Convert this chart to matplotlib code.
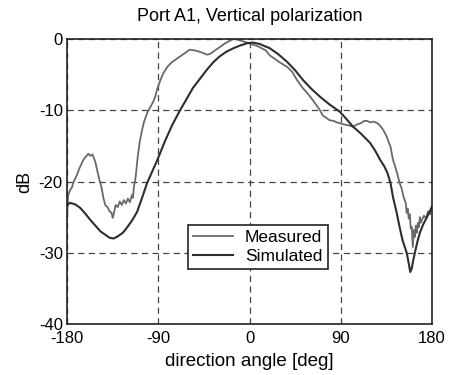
import numpy as np
import matplotlib.pyplot as plt

plt.rcParams['font.family'] = ['Liberation Sans', 'DejaVu Sans']
plt.rcParams['axes.unicode_minus'] = False

# measured pattern
meas_deg = [-180, -179.5, -179, -178, -177, -175, -174, -172, -170, -168, -166, -164, -162, -160,
            -159, -157, -155, -154, -152, -150, -148, -146, -144, -142, -140, -138, -136, -135,
            -134, -133, -132, -130, -128, -126, -124, -122, -120, -118, -116, -115, -114, -113,
            -112, -111, -110, -108, -106, -104, -101, -98, -95, -93, -91, -88, -85, -81, -77,
            -71, -65, -59, -54, -49, -45, -42, -39, -36, -32, -29, -24, -20, -16, -12, -7, -2.5,
            3.5, 8, 12, 16, 20, 25, 30, 37, 42, 47, 52, 57, 62, 66, 69.5, 72, 75, 79, 83, 86, 89,
            93, 97, 102, 106, 110, 113, 116, 119, 122, 126, 129, 132, 135, 137, 139, 141.5, 143,
            145.5, 148, 150, 152, 154, 155, 156, 157, 158, 159, 160, 161, 162, 163, 164, 165,
            166, 167, 168, 169, 170, 172, 174, 176, 178, 180]
meas_db = [-25.4, -23.5, -22.0, -21.6, -21.2, -20.8, -20.2, -19.6, -19.0, -18.2, -17.6, -17.0,
           -16.6, -16.3, -16.1, -16.4, -16.2, -16.5, -17.3, -18.6, -19.8, -20.8, -22.4, -23.4,
           -23.6, -24.2, -24.4, -25.1, -24.6, -23.9, -23.3, -23.6, -22.8, -23.3, -22.6, -23.1,
           -22.4, -22.9, -21.9, -22.3, -20.7, -20.0, -19.0, -17.5, -16.2, -14.2, -12.8, -11.6,
           -10.4, -9.6, -8.8, -8.1, -7.0, -5.8, -4.8, -3.9, -3.3, -2.7, -2.1, -1.5, -1.6, -1.8,
           -2.0, -2.2, -2.1, -1.8, -1.4, -1.1, -0.6, -0.3, 0.0, -0.1, -0.3, -0.5, -0.8, -1.0,
           -1.3, -1.6, -2.3, -2.8, -3.3, -3.9, -4.6, -5.8, -6.8, -7.6, -8.5, -9.3, -10.0, -10.7,
           -11.0, -11.4, -11.5, -11.7, -11.8, -12.0, -12.1, -12.3, -12.0, -11.8, -11.5, -11.5,
           -11.7, -11.6, -11.8, -12.2, -12.8, -13.6, -14.4, -15.1, -17.0, -17.6, -18.8, -20.2,
           -21.0, -22.2, -23.0, -24.4, -23.8, -25.2, -24.6, -26.6, -26.4, -29.2, -26.8, -27.8,
           -26.2, -27.2, -25.8, -26.4, -25.0, -25.8, -25.4, -24.8, -25.2, -24.2, -24.6, -23.5]

# simulated pattern
sim_deg = [-180, -177, -172, -167, -162, -157, -152, -147, -142, -138, -134, -130, -125, -121,
           -116, -111, -106, -101, -96, -91, -87, -83, -76, -68.5, -62, -56, -49, -42, -36, -30,
           -23, -16, -9, -2.5, 3.5, 10, 20, 28, 37, 45, 53, 61, 69.5, 79, 89, 96, 102, 110, 119,
           124, 129, 133, 136, 139, 141.5, 145, 148, 151, 155, 157, 158.5, 160, 161.5, 164,
           166, 168, 171, 175, 180]
sim_db = [-23.3, -23.0, -23.2, -23.7, -24.5, -25.4, -26.2, -27.0, -27.5, -27.9, -28.0, -27.7,
          -27.2, -26.5, -25.5, -24.3, -22.3, -20.2, -18.6, -17.0, -15.6, -14.2, -12.0, -10.0,
          -8.4, -6.9, -5.6, -4.3, -3.3, -2.5, -1.8, -1.3, -0.9, -0.6, -0.5, -0.7, -1.3, -2.1,
          -3.2, -4.4, -5.8, -7.0, -8.1, -9.2, -10.2, -11.3, -12.3, -13.3, -14.6, -15.7, -17.0,
          -17.9, -18.8, -20.2, -22.2, -24.3, -26.4, -28.3, -30.0, -31.5, -32.7, -32.2, -31.0,
          -29.4, -28.2, -27.2, -26.1, -25.0, -23.5]

fig = plt.figure(figsize=(4.51, 3.75), dpi=100)
ax = fig.add_axes([0.1486, 0.136, 0.8094, 0.76])

ax.plot(meas_deg, meas_db, color='#6a6a6a', lw=1.3, label='Measured')
ax.plot(sim_deg, sim_db, color='#2e2e2e', lw=1.5, label='Simulated')

ax.set_xlim(-180, 180)
ax.set_ylim(-40, 0)
ax.set_xticks([-180, -90, 0, 90, 180])
ax.set_yticks([-40, -30, -20, -10, 0])
ax.grid(True, color='#444444', linestyle=(0, (5, 3.5)), linewidth=0.9)
ax.tick_params(direction='in', length=0, labelsize=12)
ax.tick_params(axis='x', pad=5)
ax.tick_params(axis='y', pad=3)
for s in ax.spines.values():
    s.set_linewidth(1.2)
    s.set_color('#222222')

ax.set_title('Port A1, Vertical polarization', fontsize=13, pad=13)
ax.set_xlabel('direction angle [deg]', fontsize=13.5, labelpad=5)
ax.set_ylabel('dB', fontsize=13, labelpad=4)

leg = ax.legend(loc='center', bbox_to_anchor=(0.522, 0.27), fontsize=12.5, frameon=True,
                fancybox=False, handlelength=2.3, borderpad=0.3, labelspacing=0.2,
                handletextpad=0.7)
leg.get_frame().set_edgecolor('#222222')
leg.get_frame().set_linewidth(1.2)
leg.get_frame().set_alpha(1)

plt.savefig('out.png', dpi=100)
